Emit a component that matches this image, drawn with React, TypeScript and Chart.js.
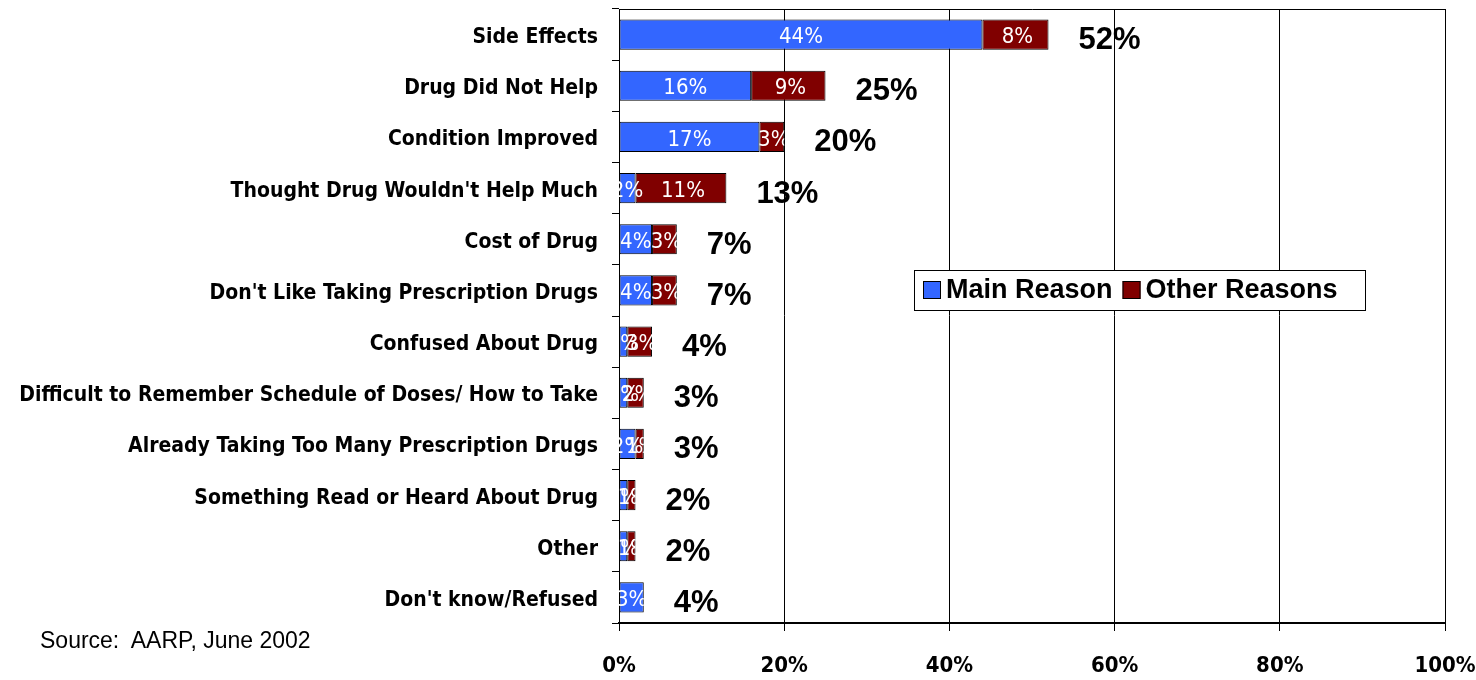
import React, { useEffect, useRef } from "react";
import { Chart, registerables } from "chart.js";
Chart.register(...registerables);

const categories = [
  "Side Effects",
  "Drug Did Not Help",
  "Condition Improved",
  "Thought Drug Wouldn't Help Much",
  "Cost of Drug",
  "Don't Like Taking Prescription Drugs",
  "Confused About Drug",
  "Difficult to Remember Schedule of Doses/ How to Take",
  "Already Taking Too Many Prescription Drugs",
  "Something Read or Heard About Drug",
  "Other",
  "Don't know/Refused",
];
const mainReason = [44, 16, 17, 2, 4, 4, 1, 1, 2, 1, 1, 3];
const otherReasons = [8, 9, 3, 11, 3, 3, 3, 2, 1, 1, 1, 0];
const totalLabels = ["52%", "25%", "20%", "13%", "7%", "7%", "4%", "3%", "3%", "2%", "2%", "4%"];
const xTickValues = [0, 20, 40, 60, 80, 100];
const seriesNames = ["Main Reason", "Other Reasons"];
const seriesColors = ["#3366FF", "#800000"];

const NARROW = '"Liberation Sans Narrow", "DejaVu Sans Condensed", "Arial Narrow", sans-serif';
const ARIAL = '"Liberation Sans", Arial, sans-serif';

const overlayPlugin = {
  id: "overlay",
  afterDatasetsDraw(chart: any) {
    const ctx = chart.ctx;
    const area = chart.chartArea;
    const xs = chart.scales.x;
    // frame
    ctx.save();
    ctx.strokeStyle = "#000";
    ctx.lineWidth = 1;
    ctx.beginPath();
    ctx.moveTo(area.left, area.top + 0.5);
    ctx.lineTo(area.right + 0.5, area.top + 0.5);
    ctx.lineTo(area.right + 0.5, area.bottom);
    ctx.stroke();
    ctx.restore();

    // in-bar labels
    const m0 = chart.getDatasetMeta(0);
    const m1 = chart.getDatasetMeta(1);
    categories.forEach((_, i) => {
      const b0 = m0.data[i];
      const b1 = m1.data[i];
      const left = xs.getPixelForValue(0);
      const right = xs.getPixelForValue(mainReason[i] + otherReasons[i]);
      const h = b0.height;
      ctx.save();
      ctx.beginPath();
      ctx.rect(left, b0.y - h / 2, right - left, h);
      ctx.clip();
      ctx.fillStyle = "#fff";
      ctx.font = `22px ${NARROW}`;
      ctx.textAlign = "center";
      ctx.textBaseline = "middle";
      if (mainReason[i] > 0) {
        ctx.fillText(mainReason[i] + "%", (b0.base + b0.x) / 2, b0.y + 3);
      }
      if (otherReasons[i] > 0) {
        ctx.fillText(otherReasons[i] + "%", (b1.base + b1.x) / 2 + 2, b1.y + 3);
      }
      ctx.restore();

      // totals
      ctx.save();
      ctx.fillStyle = "#000";
      ctx.font = `bold 31px ${ARIAL}`;
      ctx.textAlign = "left";
      ctx.textBaseline = "middle";
      ctx.fillText(totalLabels[i], right + 30, b0.y + 6);
      ctx.restore();
    });

    // legend
    ctx.save();
    const lx = 914, ly = 270, lw = 451, lh = 40;
    ctx.fillStyle = "#fff";
    ctx.fillRect(lx, ly, lw, lh);
    ctx.strokeStyle = "#000";
    ctx.lineWidth = 1;
    ctx.strokeRect(lx + 0.5, ly + 0.5, lw, lh);
    ctx.font = `bold 27px ${ARIAL}`;
    ctx.textBaseline = "middle";
    ctx.textAlign = "left";
    let cx = lx + 9;
    chart.data.datasets.forEach((ds: any) => {
      ctx.fillStyle = ds.backgroundColor;
      ctx.fillRect(cx, ly + 11, 18, 18);
      ctx.strokeStyle = "#000";
      ctx.strokeRect(cx + 0.5, ly + 11.5, 17, 17);
      ctx.fillStyle = "#000";
      ctx.fillText(ds.label, cx + 23, ly + 21);
      cx += 23 + ctx.measureText(ds.label).width + 10;
    });
    ctx.restore();
  },
};

export default function App() {
  const ref = useRef<HTMLCanvasElement>(null);
  useEffect(() => {
    document.body.style.margin = "0";
    const chart = new Chart(ref.current!, {
      type: "bar",
      data: {
        labels: categories,
        datasets: [
          {
            label: seriesNames[0],
            data: mainReason,
            backgroundColor: seriesColors[0],
            borderColor: "#000",
            borderWidth: 1,
            borderSkipped: false,
            categoryPercentage: 1,
            barPercentage: 0.59,
          },
          {
            label: seriesNames[1],
            data: otherReasons,
            backgroundColor: seriesColors[1],
            borderColor: "#000",
            borderWidth: 1,
            borderSkipped: false,
            categoryPercentage: 1,
            barPercentage: 0.59,
          },
        ],
      },
      options: {
        indexAxis: "y",
        animation: false,
        responsive: false,
        layout: { padding: { top: 9, right: 31, left: 0, bottom: 0 } },
        plugins: { legend: { display: false }, tooltip: { enabled: false } },
        scales: {
          x: {
            stacked: true,
            min: 0,
            max: 100,
            afterBuildTicks(scale: any) {
              scale.ticks = xTickValues.map((v) => ({ value: v }));
            },
            afterFit(scale: any) {
              scale.height = 57;
              scale.paddingLeft = 0;
              scale.paddingRight = 0;
            },
            grid: { color: "#000", lineWidth: 1, tickLength: 8, drawTicks: true },
            border: { color: "#000", width: 2 },
            ticks: {
              color: "#000",
              padding: 22,
              font: { family: NARROW, size: 22, weight: "bold" },
              callback: (v: any) => v + "%",
            },
          },
          y: {
            stacked: true,
            afterFit(scale: any) {
              scale.width = 619;
              scale.paddingTop = 0;
              scale.paddingBottom = 0;
            },
            grid: { drawOnChartArea: false, color: "#000", tickLength: 7, offset: true },
            border: { color: "#000", width: 1 },
            ticks: {
              color: "#000",
              padding: 14,
              labelOffset: 3,
              font: { family: NARROW, size: 21, weight: "bold" },
            },
          },
        },
      },
      plugins: [overlayPlugin],
    });
    return () => chart.destroy();
  }, []);
  return (
    <div style={{ position: "relative", width: 1476, height: 680, background: "#fff" }}>
      <canvas ref={ref} width={1476} height={680} style={{ display: "block" }} />
      <div
        style={{
          position: "absolute",
          left: 40,
          top: 627,
          fontFamily: ARIAL,
          fontSize: 23,
          color: "#000",
          whiteSpace: "pre",
        }}
      >
        {"Source:  AARP, June 2002"}
      </div>
    </div>
  );
}
